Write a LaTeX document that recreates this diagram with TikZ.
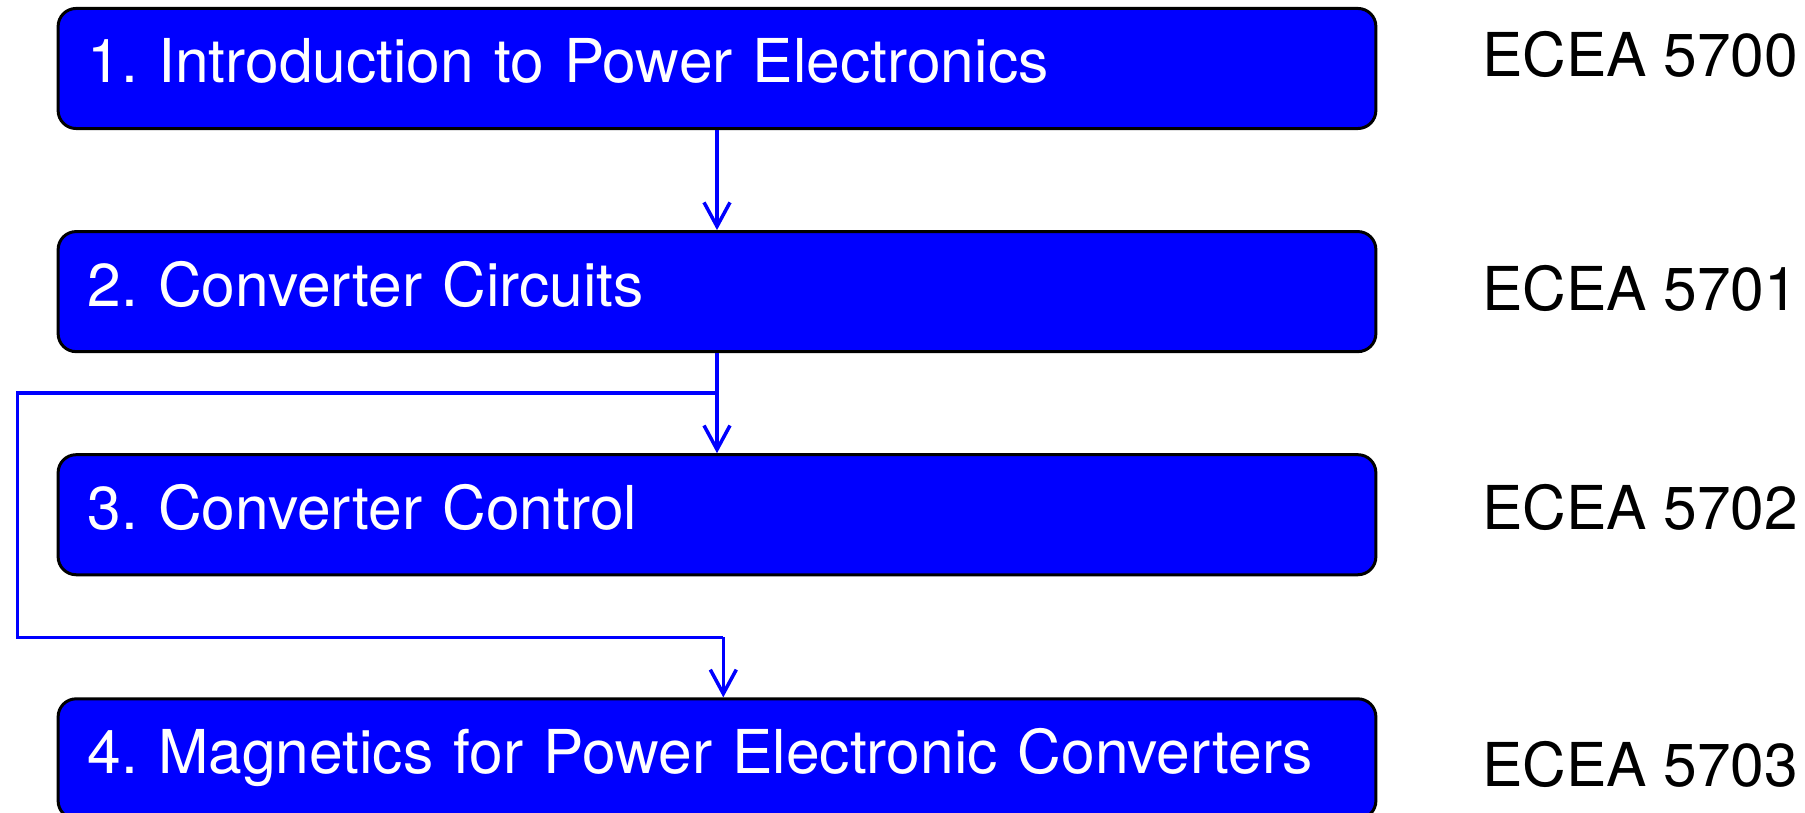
\documentclass[tikz,border=0pt]{standalone}
\usepackage{fontspec}
\setmainfont{TeX Gyre Heros}
\usetikzlibrary{arrows.meta,positioning,calc}
\frenchspacing
\definecolor{cbox}{HTML}{0000FF}
\definecolor{cline}{HTML}{0000FF}
\tikzset{
  course/.style={draw=black, fill=cbox, text=white, rounded corners=1.8mm,
                 line width=0.85pt, minimum height=1.2cm, text width=12.58cm,
                 inner xsep=2.95mm, align=left, text height=12.2pt, text depth=4pt,
                 font=\fontsize{17.2}{20}\selectfont},
  code/.style={inner sep=0pt, font=\fontsize{17.2}{20}\selectfont},
  link/.style={draw=cline, line width=1pt},
  flow/.style={link, -{Straight Barb[length=2.4mm, width=2.6mm]}},
}

\begin{document}
\begin{tikzpicture}[x=0.01cm, y=-0.01cm, node distance=1cm and 1.04cm]
  \useasboundingbox (0,0) rectangle (1805,813);
  % courses
  \node[course] (c1) at (717,68.5) {1. Introduction to Power Electronics};
  \node[course, below=of c1] (c2) {2. Converter Circuits};
  \node[course, below=of c2] (c3) {3. Converter Control};
  \node[course, below=1.21cm of c3] (c4) {4. Magnetics for Power Electronic Converters};
  % course numbers
  \node[code, right=of c1, yshift=0.145cm] (e1) {ECEA 5700};
  \node[code, right=of c2, yshift=0.035cm] (e2) {ECEA 5701};
  \node[code, right=of c3, yshift=0.07cm] (e3) {ECEA 5702};
  \node[code, right=of c4, yshift=-0.057cm] (e4) {ECEA 5703};
  % links
  \draw[flow] (c1) -- (c2);
  \draw[flow] (c2) -- (c3);
  \coordinate (tap) at ([yshift=-0.4cm]c2.south);
  \coordinate (lft) at (17.3,392.7);
  \coordinate (jog) at (723.3,637.3);
  \draw[link] (tap) -- (tap -| lft) |- (jog);
  \draw[flow] (jog) -- (jog |- c4.north);
\end{tikzpicture}
\end{document}
